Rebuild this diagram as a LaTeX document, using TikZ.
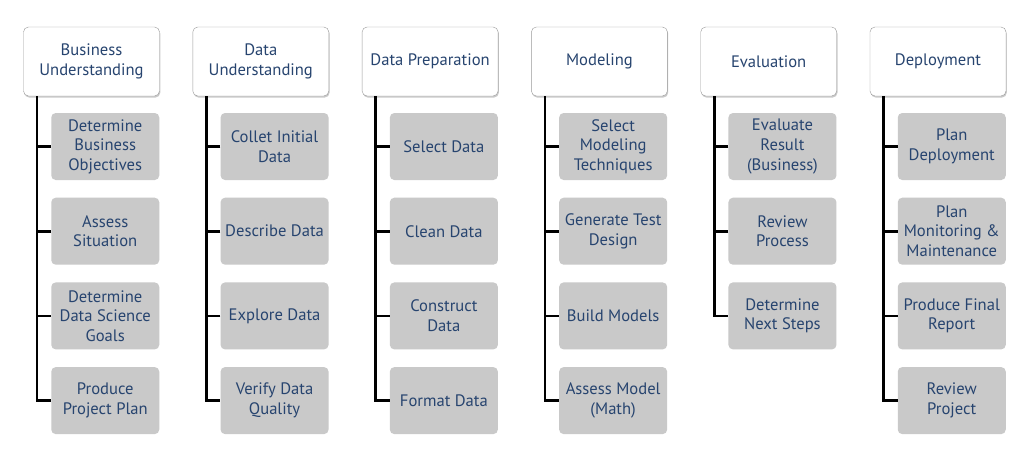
\documentclass[tikz,border=0pt]{standalone}
\usepackage{fontspec}
\setmainfont{PT Sans}
\usetikzlibrary{shadows}
\definecolor{ink}{HTML}{27446F}
\definecolor{taskgray}{HTML}{C9C9C9}
\tikzset{
  phase/.style={draw=black!40, fill=white, rounded corners=5pt,
    minimum width=136pt, minimum height=69pt, inner sep=0pt,
    align=center, text=ink, font=\fontsize{16.6}{19.6}\selectfont,
    drop shadow={shadow xshift=0.8pt, shadow yshift=-1.6pt, opacity=0.35, fill=black!60}},
  task/.style={fill=taskgray, rounded corners=4.5pt,
    minimum width=108pt, minimum height=67pt, inner sep=0pt,
    align=center, text=ink, font=\fontsize{16.6}{19.6}\selectfont},
  spine/.style={line width=2.8pt, line join=miter, black}
}
\begin{document}
\begin{tikzpicture}[x=1pt,y=-1pt]
\useasboundingbox[fill=white] (0,0) rectangle (1034,463);
% phase headers
\foreach \c/\head in {1/{Business\\Understanding}, 2/{Data\\Understanding},
    3/{Data Preparation}, 4/{Modeling}, 5/{Evaluation}, 6/{Deployment}}
  \node[phase] (h\c) at ({23.5+169.3*(\c-1)+68}, 61.5) {\head};
% tasks of each phase
\foreach \c/\r/\txt in {
    1/1/{Determine\\Business\\Objectives}, 1/2/{Assess\\Situation},
    1/3/{Determine\\Data Science\\Goals}, 1/4/{Produce\\Project Plan},
    2/1/{Collet Initial\\Data}, 2/2/{Describe Data},
    2/3/{Explore Data}, 2/4/{Verify Data\\Quality},
    3/1/{Select Data}, 3/2/{Clean Data},
    3/3/{Construct\\Data}, 3/4/{Format Data},
    4/1/{Select\\Modeling\\Techniques}, 4/2/{Generate Test\\Design},
    4/3/{Build Models}, 4/4/{Assess Model\\(Math)},
    5/1/{Evaluate\\Result\\(Business)}, 5/2/{Review\\Process},
    5/3/{Determine\\Next Steps},
    6/1/{Plan\\Deployment}, 6/2/{Plan\\Monitoring \&\\Maintenance},
    6/3/{Produce Final\\Report}, 6/4/{Review\\Project}}
  \node[task] (t\c\r) at ({23.5+169.3*(\c-1)+81.75}, {146.5+84.7*(\r-1)}) {\txt};
% spines from each header down to its last task
\foreach \c/\n in {1/4, 2/4, 3/4, 4/4, 5/3, 6/4} {
  \coordinate (s\c) at ([xshift=-14pt]t\c1.west);
  \draw[spine] (s\c |- h\c.south) |- (t\c\n.west);
}
% ticks into every task
\foreach \c/\r in {1/1,1/2,1/3,2/1,2/2,2/3,3/1,3/2,3/3,4/1,4/2,4/3,5/1,5/2,6/1,6/2,6/3}
  \draw[spine] (t\c\r.west) -- ++(-14,0);
\end{tikzpicture}
\end{document}
